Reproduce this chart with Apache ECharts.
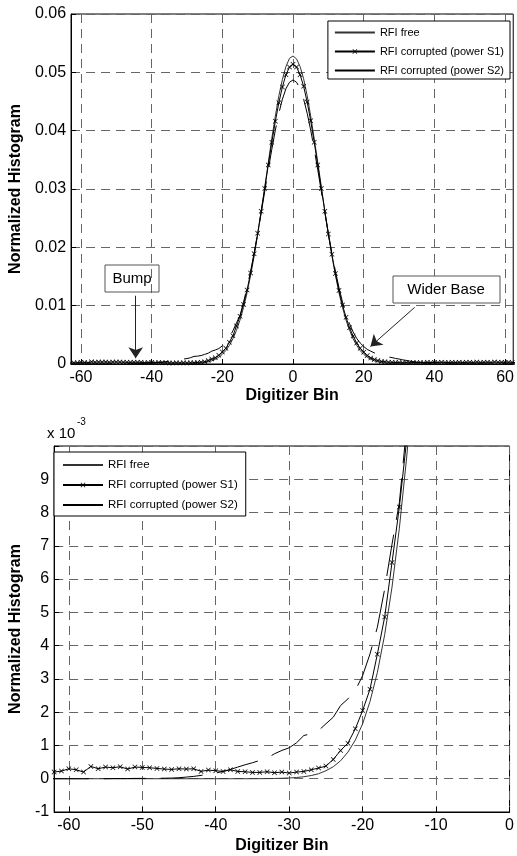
<!DOCTYPE html>
<html>
<head>
<meta charset="utf-8">
<script src="https://cdn.jsdelivr.net/npm/echarts@6.0.0/dist/echarts.min.js"></script>
<style>
html, body { margin: 0; padding: 0; background: #fff; }
#main { width: 517px; height: 856px; }
</style>
</head>
<body>
<div id="main"></div>
<script>
// digitizer bins -63 ... 63, histogram values in units of 1e-3
var binStart = -63

var rfiFree = [
  0, 0, 0, 0, 0, 0, 0, 0, 0, 0, 0, 0, 0, 0, 0, 0, 0, 0, 0, 0, 0, 0, 0, 0, 0, 0, 0, 0,
  0.001, 0.002, 0.004, 0.007, 0.013, 0.022, 0.036, 0.06, 0.096, 0.15,
  0.24, 0.36, 0.54, 0.8, 1.16, 1.65, 2.32, 3.19, 4.33, 5.76,
  7.53, 9.67, 12.2, 15.2, 18.5, 22.2, 26.2, 30.3, 34.5, 38.7,
  42.5, 46.0, 48.8, 51.0, 52.4, 52.8, 52.3, 51.0, 48.9, 46.0,
  42.5, 38.6, 34.6, 30.4, 26.2, 22.2, 18.5, 15.2, 12.2, 9.7,
  7.5, 5.8, 4.3, 3.2, 2.3, 1.65, 1.16, 0.8, 0.54, 0.36,
  0.24, 0.15, 0.096, 0.06, 0.036, 0.022, 0.013, 0.007, 0.004, 0.002, 0.001,
  0, 0, 0, 0, 0, 0, 0, 0, 0, 0, 0, 0, 0, 0, 0, 0, 0, 0, 0, 0, 0, 0, 0, 0, 0, 0, 0, 0
]

var rfiS1 = [
  0.22, 0.20, 0.23, 0.30, 0.27, 0.20, 0.37, 0.30, 0.35, 0.33,
  0.36, 0.29, 0.35, 0.34, 0.33, 0.31, 0.29, 0.28, 0.30, 0.29,
  0.30, 0.22, 0.26, 0.24, 0.22, 0.27, 0.22, 0.21, 0.19, 0.19,
  0.21, 0.18, 0.20, 0.17, 0.20, 0.22, 0.27, 0.32, 0.38, 0.58,
  0.85, 1.07, 1.5, 2.05, 2.69, 3.74, 4.86, 6.5, 8.17, 10.2,
  12.7, 15.6, 18.9, 22.4, 26.2, 30.1, 34.1, 38.0, 41.6, 44.8,
  47.5, 49.6, 50.9, 51.4, 50.9, 49.6, 47.6, 44.9, 41.7, 38.0,
  34.1, 30.1, 26.2, 22.3, 18.8, 15.5, 12.6, 10.1, 8.0, 6.2,
  4.8, 3.6, 2.7, 2.0, 1.45, 1.05, 0.78, 0.58, 0.45, 0.37,
  0.31, 0.28, 0.26, 0.24, 0.22, 0.25, 0.21, 0.27, 0.23, 0.26,
  0.22, 0.28, 0.24, 0.27, 0.25, 0.30, 0.26, 0.24, 0.29, 0.27,
  0.31, 0.25, 0.28, 0.30, 0.26, 0.33, 0.27, 0.29, 0.31, 0.25,
  0.34, 0.28, 0.30, 0.26, 0.32, 0.27, 0.24
]

var rfiS2 = [
  0, 0, 0, 0, 0, 0, 0, 0, 0, 0.005, 0.005, 0.005, 0.01, 0.01, 0.01, 0.015, 0.015,
  0.02, 0.03, 0.05, 0.07, 0.1, 0.13, 0.17, 0.22, 0.28, 0.35,
  0.42, 0.48, 0.55, 0.62, 0.75, 0.85, 0.93, 1.08, 1.3, 1.35,
  1.45, 1.65, 1.85, 2.2, 2.4, 2.65, 3.1, 3.75, 4.55, 5.7,
  7.05, 8.3, 10.6, 13.1, 15.9, 19.0, 22.4, 25.9, 29.6, 33.3,
  36.8, 40.1, 43.0, 45.4, 47.2, 48.3, 48.7, 48.3, 47.2, 45.4,
  43.0, 40.1, 36.8, 33.3, 29.6, 25.9, 22.4, 19.0, 15.9, 13.1,
  10.6, 8.4, 6.9, 5.5, 4.4, 3.6, 3.0, 2.5, 2.2, 1.9,
  1.7, 1.5, 1.35, 1.2, 1.1, 0.95, 0.85, 0.72, 0.62, 0.5,
  0.4, 0.32, 0.25, 0.19, 0.14, 0.1, 0.07, 0.05, 0.035, 0.025,
  0.015, 0.01,
  0, 0, 0, 0, 0, 0, 0, 0, 0, 0, 0, 0, 0, 0, 0, 0, 0, 0
]

var topXTicks = [-60, -40, -20, 0, 20, 40, 60]
var bottomXTicks = [-60, -50, -40, -30, -20, -10, 0]
var legendNames = ['RFI free', 'RFI corrupted (power S1)', 'RFI corrupted (power S2)']

// arrows of the two notes on the upper plot (bin, value*1e-3)
var bumpArrow = [[-44.5, 11.7], [-44.5, 1.0]]
var widerArrow = [[34.4, 9.7], [21.9, 3.0]]

var FONT = '"Liberation Sans", Arial, Helvetica, sans-serif'
var crossPath = 'path://M0,1L1,0L5,4L9,0L10,1L6,5L10,9L9,10L5,6L1,10L0,9L4,5Z'

function pairs(vals) {
  return vals.map(function (v, i) { return [binStart + i, v] })
}

function makeSeries(idx) {
  var list = [
    {
      name: legendNames[0], type: 'line', xAxisIndex: idx, yAxisIndex: idx,
      data: pairs(rfiFree), symbol: 'none',
      lineStyle: { color: '#333', width: 1 }, itemStyle: { color: '#333' }
    },
    {
      name: legendNames[1], type: 'line', xAxisIndex: idx, yAxisIndex: idx,
      data: pairs(rfiS1), symbol: crossPath, symbolSize: 5, showAllSymbol: true,
      lineStyle: { color: '#000', width: 1 }, itemStyle: { color: '#000' }
    },
    {
      name: legendNames[2], type: 'line', xAxisIndex: idx, yAxisIndex: idx,
      data: pairs(rfiS2), symbol: 'none',
      lineStyle: { color: '#000', width: 1, type: [42, 15] }, itemStyle: { color: '#000' }
    }
  ]
  return list
}

var series = makeSeries(0).concat(makeSeries(1))
series[1].markLine = {
  silent: true,
  animation: false,
  symbol: ['none', 'arrow'],
  symbolSize: 11,
  label: { show: false },
  lineStyle: { color: '#222', width: 1, type: 'solid' },
  data: [
    [{ coord: bumpArrow[0] }, { coord: bumpArrow[1] }],
    [{ coord: widerArrow[0] }, { coord: widerArrow[1] }]
  ]
}

var legendData = [
  { name: legendNames[0], itemStyle: { opacity: 0 } },
  { name: legendNames[1] },
  { name: legendNames[2], itemStyle: { opacity: 0 } }
]

var gridLine = { show: true, lineStyle: { color: '#666', width: 1, type: [9, 6] } }
var tickStyle = { color: '#000', fontSize: 16, fontFamily: FONT }
var nameStyle = { color: '#000', fontSize: 16, fontWeight: 'bold', fontFamily: FONT }

function xAxis(idx, min, max, ticks, gap) {
  return {
    gridIndex: idx, type: 'value', min: min, max: max,
    axisLine: { show: true, onZero: false, lineStyle: { color: '#000' } },
    axisTick: { show: true, inside: true, length: 5, customValues: ticks, lineStyle: { color: '#000' } },
    axisLabel: Object.assign({ customValues: ticks, margin: 6 }, tickStyle),
    splitLine: gridLine,
    name: 'Digitizer Bin', nameLocation: 'middle', nameGap: gap, nameTextStyle: nameStyle
  }
}

function yAxis(idx, min, max, fmt, gap) {
  return {
    gridIndex: idx, type: 'value', min: min, max: max, interval: idx === 0 ? 10 : 1,
    axisLine: { show: true, onZero: false, lineStyle: { color: '#000' } },
    axisTick: { show: true, inside: true, length: 5, lineStyle: { color: '#000' } },
    axisLabel: Object.assign({ margin: 5, formatter: fmt }, tickStyle),
    splitLine: gridLine,
    name: 'Normalized Histogram', nameLocation: 'middle', nameGap: gap, nameTextStyle: nameStyle
  }
}

function legend(pos, pad, gap, size) {
  return Object.assign({
    data: legendData, orient: 'vertical',
    padding: pad, itemGap: gap, itemWidth: 40, itemHeight: 6,
    borderColor: '#000', borderWidth: 1, backgroundColor: '#fff', selectedMode: false,
    textStyle: { fontSize: size, color: '#000', fontFamily: FONT }
  }, pos)
}

var chart = echarts.init(document.getElementById('main'))
chart.setOption({
  animation: false,
  backgroundColor: '#fff',
  grid: [
    { left: 71, right: 2, top: 14, height: 350, show: true, borderColor: '#000', borderWidth: 1 },
    { left: 48, right: 6, top: 446, height: 366, show: true, borderColor: '#000', borderWidth: 1 }
  ],
  xAxis: [
    xAxis(0, -62.8, 62.3, topXTicks, 24),
    xAxis(1, -62, 0, bottomXTicks, 26)
  ],
  yAxis: [
    yAxis(0, 0, 60, function (v) { return v === 0 ? '0' : (v / 1000).toFixed(2) }, 38),
    yAxis(1, -1, 10, function (v) { return v === 10 ? '' : String(v) }, 26)
  ],
  legend: [
    legend({ right: 7, top: 21 }, [6, 6, 3, 6], 8, 11),
    legend({ left: 54, top: 452 }, [7, 8, 5, 8], 8, 11.5)
  ],
  graphic: [
    { type: 'rect', shape: { x: 105, y: 265, width: 54, height: 27 }, style: { fill: 'none', stroke: '#555', lineWidth: 1 }, z: 10 },
    { type: 'text', x: 132, y: 279, style: { text: 'Bump', fontSize: 15, fontFamily: FONT, fill: '#000', align: 'center', verticalAlign: 'middle' }, z: 10 },
    { type: 'rect', shape: { x: 393, y: 276, width: 107, height: 27 }, style: { fill: '#fff', stroke: '#555', lineWidth: 1 }, z: 10 },
    { type: 'text', x: 446, y: 290, style: { text: 'Wider Base', fontSize: 15, fontFamily: FONT, fill: '#000', align: 'center', verticalAlign: 'middle' }, z: 10 },
    { type: 'text', x: 47, y: 434, style: { text: 'x 10', fontSize: 15, fontFamily: FONT, fill: '#000', verticalAlign: 'middle' } },
    { type: 'text', x: 77, y: 422, style: { text: '-3', fontSize: 10, fontFamily: FONT, fill: '#000', verticalAlign: 'middle' } }
  ],
  series: series
})
</script>
</body>
</html>
